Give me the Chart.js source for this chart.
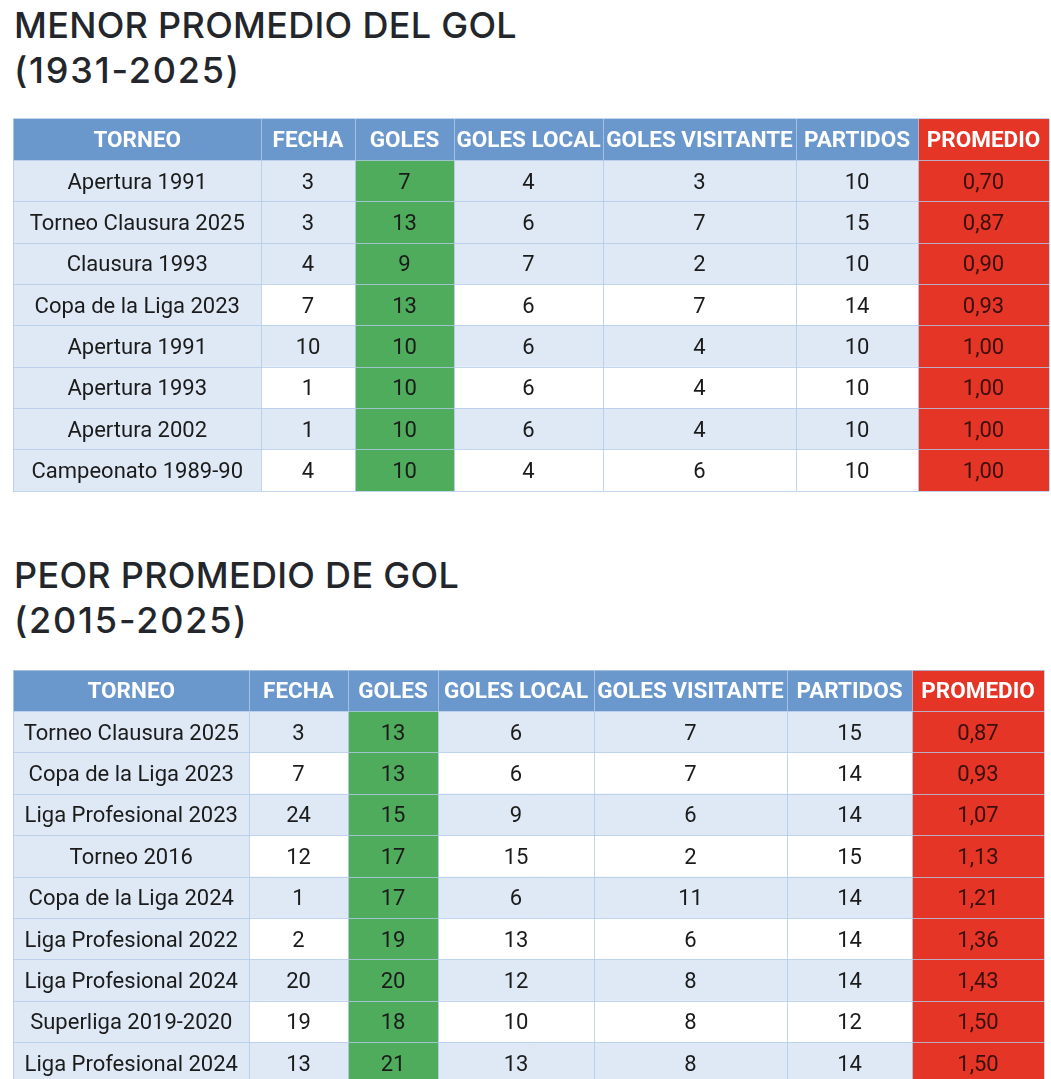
<!DOCTYPE html>
<html>
<head>
<meta charset="utf-8">
<script src="https://cdn.jsdelivr.net/npm/chart.js@4"></script>
<style>
  html, body { margin: 0; padding: 0; background: #fff; overflow: hidden; width: 1051px; height: 1079px; }
  .titulo { position: absolute; left: 14px; margin: 0; font-family: Inter, sans-serif; font-weight: 500;
            font-size: 36px; line-height: 45px; color: #23262b; letter-spacing: 0.3px; }
  .titulo span { letter-spacing: 1.8px; }
  canvas { position: absolute; }
</style>
</head>
<body>
<h1 class="titulo" style="top:3px">MENOR PROMEDIO DEL GOL<br><span>(1931-2025)</span></h1>
<canvas id="tabla1" width="1038" height="374" style="left:12px;top:118px"></canvas>

<h1 class="titulo" style="top:553px">PEOR PROMEDIO DE GOL<br><span>(2015-2025)</span></h1>
<canvas id="tabla2" width="1033" height="416" style="left:12px;top:669px"></canvas>

<script>
// Encabezados de columnas
const columnas = ["TORNEO", "FECHA", "GOLES", "GOLES LOCAL", "GOLES VISITANTE", "PARTIDOS", "PROMEDIO"];

// Tabla 1: menor promedio (1931-2025)
const torneos1 = ["Apertura 1991", "Torneo Clausura 2025", "Clausura 1993", "Copa de la Liga 2023",
  "Apertura 1991", "Apertura 1993", "Apertura 2002", "Campeonato 1989-90"];
const fechas1 = [3, 3, 4, 7, 10, 1, 1, 4];
const goles1 = [7, 13, 9, 13, 10, 10, 10, 10];
const golesLocal1 = [4, 6, 7, 6, 6, 6, 6, 4];
const golesVisitante1 = [3, 7, 2, 7, 4, 4, 4, 6];
const partidos1 = [10, 15, 10, 14, 10, 10, 10, 10];
const promedios1 = [0.70, 0.87, 0.90, 0.93, 1.00, 1.00, 1.00, 1.00];

// Tabla 2: peor promedio (2015-2025)
const torneos2 = ["Torneo Clausura 2025", "Copa de la Liga 2023", "Liga Profesional 2023", "Torneo 2016",
  "Copa de la Liga 2024", "Liga Profesional 2022", "Liga Profesional 2024", "Superliga 2019-2020",
  "Liga Profesional 2024"];
const fechas2 = [3, 7, 24, 12, 1, 2, 20, 19, 13];
const goles2 = [13, 13, 15, 17, 17, 19, 20, 18, 21];
const golesLocal2 = [6, 6, 9, 15, 6, 13, 12, 10, 13];
const golesVisitante2 = [7, 7, 6, 2, 11, 6, 8, 8, 8];
const partidos2 = [15, 14, 14, 15, 14, 14, 14, 12, 14];
const promedios2 = [0.87, 0.93, 1.07, 1.13, 1.21, 1.36, 1.43, 1.50, 1.50];

// Colores
const AZUL_HEADER = "#6a98cd";
const AZUL_CLARO = "#dfe9f5";
const VERDE = "#4fac5c";
const ROJO = "#e53526";
const LINEA = "rgba(178, 203, 233, 0.8)";

const formatoProm = (v) => v.toFixed(2).replace(".", ",");

function crearTabla(canvasId, filas, anchos, sombreadas) {
  const etiquetas = ["enc"].concat(filas[0].map((_, i) => "f" + i));
  const total = anchos.reduce((a, b) => a + b, 0);
  const bordes = [0];
  anchos.forEach((w) => bordes.push(bordes[bordes.length - 1] + w));

  const colorCelda = (col, fila) => {
    if (fila === 0) return col === 6 ? ROJO : AZUL_HEADER;
    if (col === 2) return VERDE;
    if (col === 6) return ROJO;
    if (col === 0) return AZUL_CLARO;
    return sombreadas[fila - 1] ? AZUL_CLARO : "#ffffff";
  };

  const datasets = columnas.map((nombre, c) => ({
    label: nombre,
    data: etiquetas.map(() => anchos[c]),
    backgroundColor: (ctx) => colorCelda(c, ctx.dataIndex),
    borderWidth: 0,
    barPercentage: 1,
    categoryPercentage: 1
  }));

  new Chart(document.getElementById(canvasId), {
    type: "bar",
    data: { labels: etiquetas, datasets },
    options: {
      indexAxis: "y",
      responsive: false,
      animation: false,
      events: [],
      layout: { padding: 1 },
      plugins: { legend: { display: false }, tooltip: { enabled: false }, title: { display: false } },
      scales: {
        x: {
          type: "linear", stacked: true, min: 0, max: total,
          afterBuildTicks: (s) => { s.ticks = bordes.map((v) => ({ value: v })); },
          ticks: { display: false },
          grid: { color: LINEA, lineWidth: 1, drawTicks: false, z: 1 },
          border: { display: false }
        },
        y: {
          stacked: true,
          ticks: { display: false },
          grid: { color: LINEA, lineWidth: 1, drawTicks: false, offset: true, z: 1 },
          border: { display: false }
        }
      }
    },
    plugins: [{
      id: "textoCeldas",
      afterDraw: (chart) => {
        const { ctx } = chart;
        ctx.save();
        ctx.textAlign = "center";
        ctx.textBaseline = "middle";
        chart.data.datasets.forEach((ds, c) => {
          chart.getDatasetMeta(c).data.forEach((el, f) => {
            const cx = (el.x + el.base) / 2;
            let texto;
            if (f === 0) {
              ctx.font = "bold 22.5px Roboto";
              ctx.fillStyle = "#ffffff";
              texto = columnas[c];
            } else {
              ctx.font = "22px Roboto";
              ctx.fillStyle = c === 6 ? "#3a0f0b" : "#1b1b1b";
              const v = filas[c][f - 1];
              texto = c === 6 ? formatoProm(v) : String(v);
            }
            ctx.fillText(texto, cx, el.y + 2);
          });
        });
        ctx.restore();
      }
    }]
  });
}

crearTabla("tabla1",
  [torneos1, fechas1, goles1, golesLocal1, golesVisitante1, partidos1, promedios1],
  [248, 94, 99, 149, 193, 122, 131],
  [true, true, true, false, true, false, true, false]);

crearTabla("tabla2",
  [torneos2, fechas2, goles2, golesLocal2, golesVisitante2, partidos2, promedios2],
  [236, 99, 90, 156, 193, 125, 132],
  [true, false, true, false, true, false, true, false, true]);
</script>
</body>
</html>
